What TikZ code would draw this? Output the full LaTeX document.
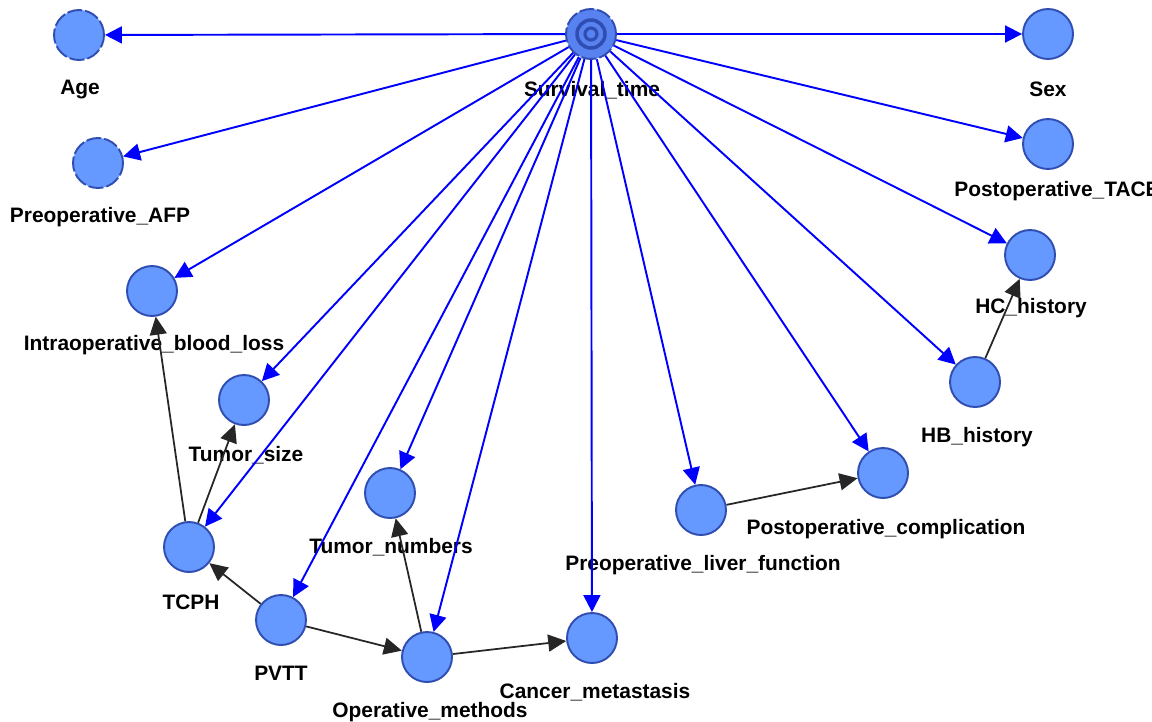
\documentclass[tikz,border=0pt]{standalone}
\usepackage{fontspec}
\setmainfont{Liberation Sans}
\usetikzlibrary{arrows.meta}
\definecolor{varfill}{RGB}{102,153,255}
\definecolor{varedge}{RGB}{48,78,178}
\definecolor{survfill}{RGB}{88,130,240}
\tikzset{
  var/.style={circle, minimum size=1cm, inner sep=0pt, fill=varfill, draw=varedge, line width=1.1pt},
  dashvar/.style={var, dash pattern=on 0.3cm off 0.06cm},
  varname/.style={font=\fontsize{11.9}{14}\selectfont\bfseries, inner sep=0pt},
  causal/.style={blue, line width=1.1pt, -{Triangle[length=0.34cm,width=0.34cm]}},
  link/.style={black!85, line width=1pt, -{Triangle[length=0.36cm,width=0.34cm]}}
}
\begin{document}
\begin{tikzpicture}[x=0.02cm, y=-0.02cm, line join=round]
  \useasboundingbox (0,0) rectangle (1152,721);
  \clip (0,0) rectangle (1152,721);
  \foreach \n/\x/\y/\t in {age/80/90/Age, surv/592/90/Survival\_time, sex/1048/89/Sex,
      afp/100/217/Preoperative\_AFP, tace/1057/191/Postoperative\_TACE, hc/1031/308/HC\_history,
      blood/154/345/Intraoperative\_blood\_loss, hb/977/437/HB\_history, tsize/246/455/Tumor\_size,
      tnum/391/547/Tumor\_numbers, comp/886/529/Postoperative\_complication,
      liver/703/565/Preoperative\_liver\_function, tcph/191/602/TCPH, pvtt/281/673/PVTT,
      opm/430/712/Operative\_methods, meta/595/692/Cancer\_metastasis}{
    \node[varname] (\n-l) at (\x,\y) {\t};
  }
  \node[dashvar] (age) at (79,35) {};
  \node[dashvar] (afp) at (98,163) {};
  \node[dashvar, fill=survfill] (surv) at (591,34) {};
  \draw[varedge, line width=2pt] (surv.center) circle (0.28cm);
  \draw[varedge, line width=1.8pt] (surv.center) circle (0.12cm);
  \node[var] (sex) at (1048,34) {};
  \node[var] (tace) at (1048,144) {};
  \node[var] (hc) at (1030,255) {};
  \node[var] (blood) at (152,291) {};
  \node[var] (hb) at (975,382) {};
  \node[var] (tsize) at (244,400) {};
  \node[var] (tnum) at (390,493) {};
  \node[var] (comp) at (883,473) {};
  \node[var] (liver) at (701,510) {};
  \node[var] (tcph) at (189,547) {};
  \node[var] (pvtt) at (281,620) {};
  \node[var] (opm) at (427,657) {};
  \node[var] (meta) at (592,638) {};
  \foreach \t in {age,sex,afp,tace,blood,tsize,tcph,pvtt,tnum,opm,meta,liver,comp,hb,hc}
    \draw[causal] (surv) -- (\t);
  \foreach \a/\b in {tcph/blood, tcph/tsize, pvtt/tcph, pvtt/opm, opm/tnum, opm/meta, liver/comp, hb/hc}
    \draw[link] (\a) -- (\b);
\end{tikzpicture}
\end{document}
